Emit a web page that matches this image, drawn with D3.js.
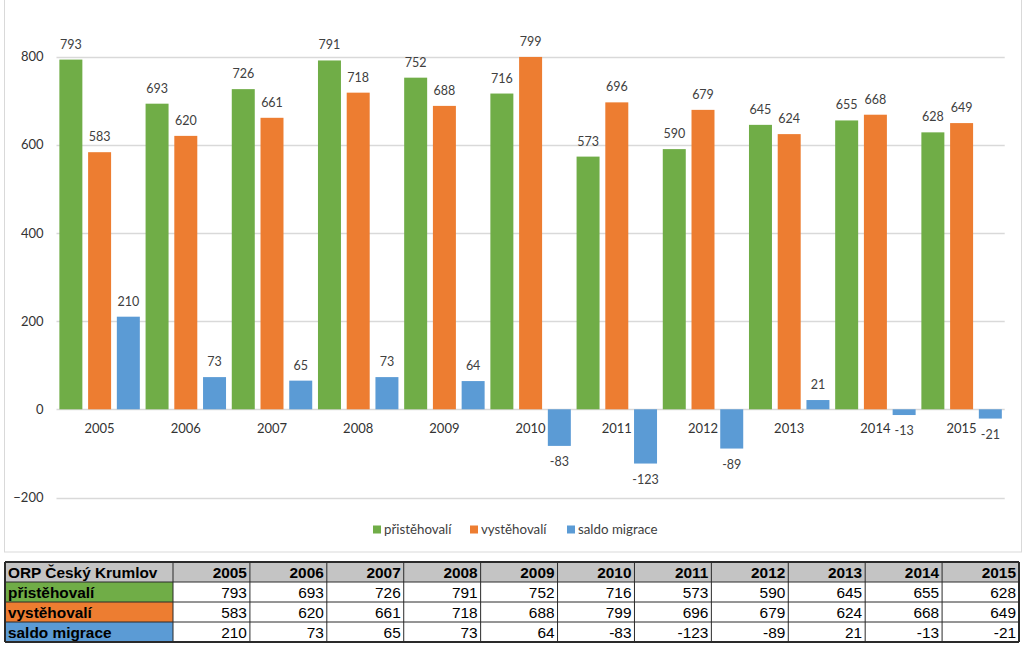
<!DOCTYPE html>
<html><head><meta charset="utf-8">
<script src="https://cdn.jsdelivr.net/npm/d3@7"></script>
<style>body{margin:0;background:#fff}svg{display:block}</style>
</head><body>
<svg id="c" width="1024" height="651"></svg>
<script>
const years = [2005,2006,2007,2008,2009,2010,2011,2012,2013,2014,2015];
const pristehovali = [793,693,726,791,752,716,573,590,645,655,628];
const vystehovali = [583,620,661,718,688,799,696,679,624,668,649];
const saldo = [210,73,65,73,64,-83,-123,-89,21,-13,-21];
const seriesNames = ["přistěhovalí","vystěhovalí","saldo migrace"];
const seriesColors = ["#70ad47","#ed7d31","#5b9bd5"];
const yTicks = [-200,0,200,400,600,800];
const tableTitle = "ORP Český Krumlov";

const series = [pristehovali, vystehovali, saldo];
const svg = d3.select("#c");

// chart frame
svg.append("rect").attr("x",4.5).attr("y",-1).attr("width",1017).attr("height",553)
  .attr("fill","#fff").attr("stroke","#d9d9d9");

const x = d3.scaleBand().domain(years).range([56.5,1004.7]).padding(0);
const xi = d3.scaleBand().domain([0,1,2]).range([0,x.bandwidth()]).paddingInner(0.2).paddingOuter(0.1);
const y = d3.scaleLinear().domain([-200,800]).range([497.5,56.5]);

// gridlines
svg.append("g").selectAll("line").data(yTicks).join("line")
  .attr("x1",56.5).attr("x2",1004.7)
  .attr("y1",d=>Math.round(y(d))+0.5).attr("y2",d=>Math.round(y(d))+0.5)
  .attr("stroke","#d9d9d9").attr("stroke-width",1.5);

// y axis
const ya = svg.append("g").attr("transform","translate(56.5,0)")
  .call(d3.axisLeft(y).tickValues(yTicks).tickSize(0).tickPadding(13));
ya.select(".domain").remove();
ya.selectAll("text").attr("font-family","Lato, 'Open Sans', sans-serif").attr("font-size",13).attr("fill","#333");

// bars
series.forEach((vals,si)=>{
  const g = svg.append("g");
  g.selectAll("rect").data(vals).join("rect")
    .attr("x",(d,i)=>x(years[i])+xi(si))
    .attr("width",xi.bandwidth())
    .attr("y",d=>y(Math.max(0,d)))
    .attr("height",d=>Math.abs(y(d)-y(0)))
    .attr("fill",seriesColors[si]);
  g.selectAll("text").data(vals).join("text")
    .attr("x",(d,i)=>x(years[i])+xi(si)+xi.bandwidth()/2)
    .attr("y",d=>d>=0? y(d)-11 : y(d)+20)
    .attr("text-anchor","middle")
    .attr("font-family","Lato, 'Open Sans', sans-serif").attr("font-size",12.5).attr("fill","#404040")
    .text(d=>d);
});

// category labels
svg.append("g").selectAll("text").data(years).join("text")
  .attr("x",d=>x(d)+x.bandwidth()/2).attr("y",y(0)+23.5)
  .attr("text-anchor","middle")
  .attr("font-family","Lato, 'Open Sans', sans-serif").attr("font-size",13).attr("fill","#333")
  .text(d=>d);

// legend
const lg = svg.append("g");
const lxs = [373,470,567];
seriesNames.forEach((n,i)=>{
  lg.append("rect").attr("x",lxs[i]).attr("y",525.5).attr("width",8).attr("height",8).attr("fill",seriesColors[i]);
  lg.append("text").attr("x",lxs[i]+11).attr("y",534).attr("font-family","Lato, 'Open Sans', sans-serif")
    .attr("font-size",13.3).attr("fill","#404040").text(n);
});

// table
const tX0 = 5, tCol0 = 173, tColW = (1019-173)/11, tY0 = 562, tRowH = 20;
const tf = "'Liberation Sans', Arial, sans-serif";
const fs = 15.4;
const tg = svg.append("g");
tg.append("rect").attr("x",tX0).attr("y",tY0).attr("width",1019-tX0).attr("height",tRowH).attr("fill","#c4c4c4");
series.forEach((v,si)=>{
  tg.append("rect").attr("x",tX0).attr("y",tY0+tRowH*(si+1)).attr("width",tCol0-tX0).attr("height",tRowH).attr("fill",seriesColors[si]);
});
for(let r=0;r<=4;r++){
  tg.append("line").attr("x1",tX0).attr("x2",1019).attr("y1",tY0+r*tRowH).attr("y2",tY0+r*tRowH)
    .attr("stroke","#2a2a2a").attr("stroke-width",r===0||r===4?2:1);
}
const colXs=[tX0,tCol0].concat(years.map((d,i)=>tCol0+tColW*(i+1)));
colXs.forEach((cx,i)=>{
  tg.append("line").attr("x1",cx).attr("x2",cx).attr("y1",tY0).attr("y2",tY0+4*tRowH)
    .attr("stroke","#2a2a2a").attr("stroke-width",(i===0||i===colXs.length-1)?2:1);
});
tg.append("text").attr("x",tX0+3).attr("y",tY0+16).attr("font-family",tf).attr("font-size",fs)
  .attr("font-weight","bold").attr("fill","#000").text(tableTitle);
tg.selectAll("text.yh").data(years).join("text").attr("class","yh")
  .attr("x",(d,i)=>tCol0+tColW*(i+1)-3).attr("y",tY0+16).attr("text-anchor","end")
  .attr("font-family",tf).attr("font-size",fs).attr("font-weight","bold").attr("fill","#000").text(d=>d);
series.forEach((vals,si)=>{
  const ry = tY0+tRowH*(si+1)+16;
  tg.append("text").attr("x",tX0+3).attr("y",ry).attr("font-family",tf).attr("font-size",fs)
    .attr("font-weight","bold").attr("fill","#000").text(seriesNames[si]);
  tg.selectAll("text.v"+si).data(vals).join("text").attr("class","v"+si)
    .attr("x",(d,i)=>tCol0+tColW*(i+1)-3).attr("y",ry).attr("text-anchor","end")
    .attr("font-family",tf).attr("font-size",fs).attr("fill","#000").text(d=>d);
});
</script>
</body></html>
